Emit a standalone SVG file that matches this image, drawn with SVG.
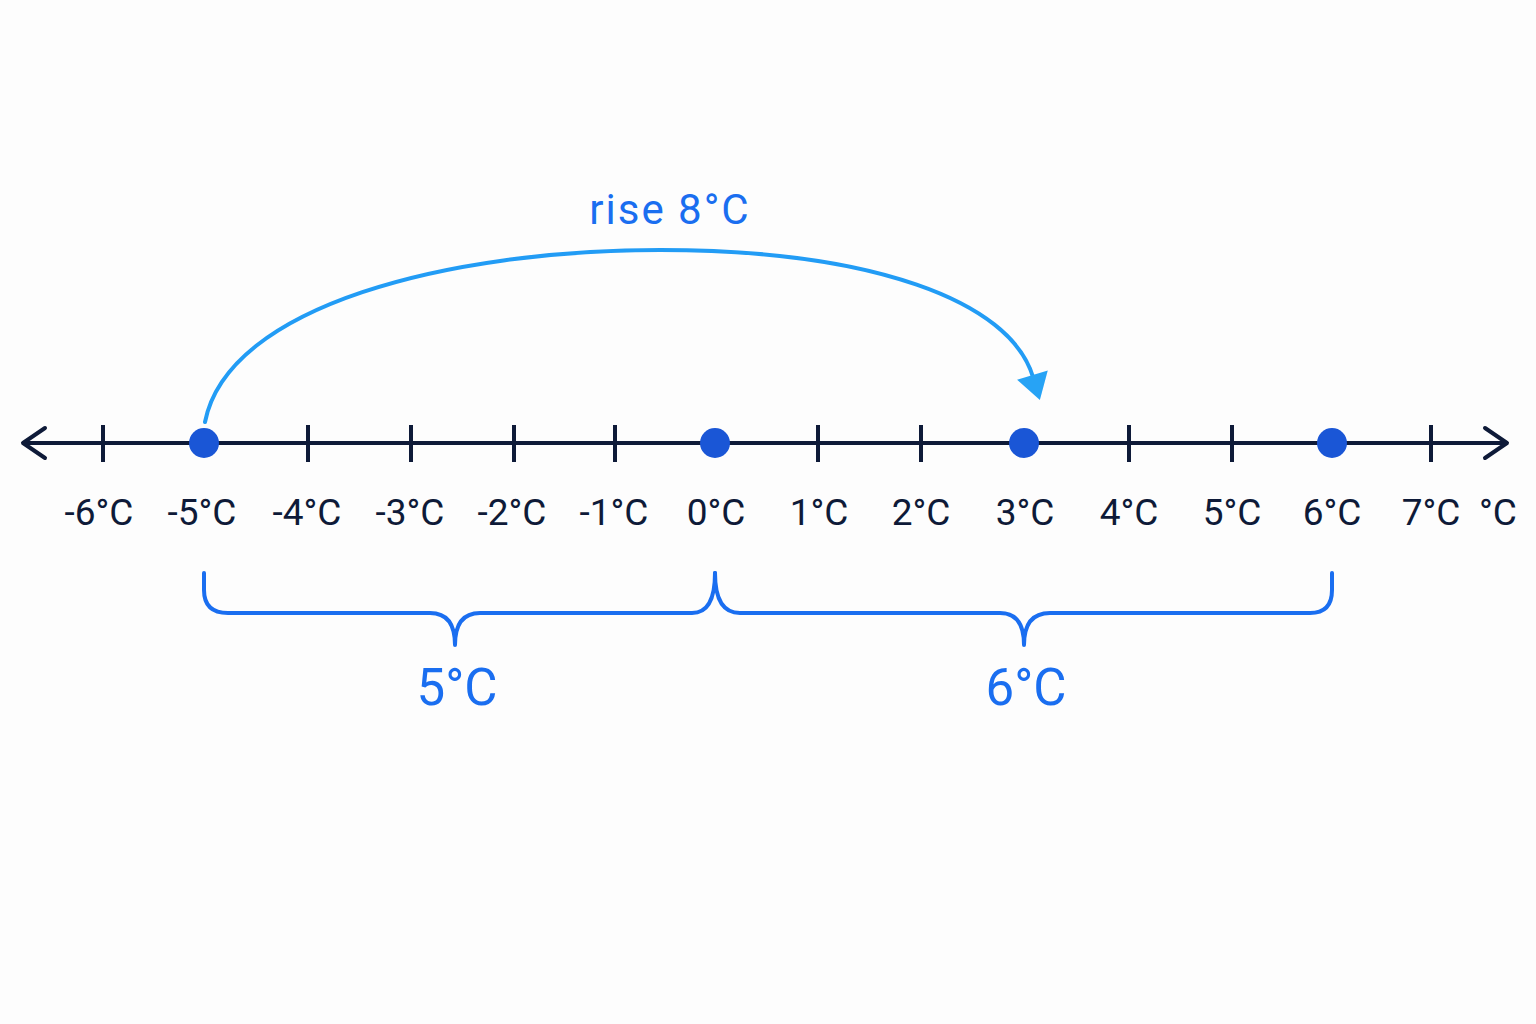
<svg xmlns="http://www.w3.org/2000/svg" width="1536" height="1024" viewBox="0 0 1536 1024">
<defs>
<style>
.axis{stroke:#0e1a38;stroke-width:4;fill:none;stroke-linecap:round;stroke-linejoin:round}
.tick{stroke:#0e1a38;stroke-width:4}
.dot{fill:#1a56d6}
.lbl{font-family:Roboto,"Liberation Sans",sans-serif;font-size:37px;fill:#0e1a38;text-anchor:middle}
.brace{stroke:#1a6ef0;stroke-width:4;fill:none;stroke-linecap:round;stroke-linejoin:round}
.blbl{font-family:Roboto,"Liberation Sans",sans-serif;font-size:51px;fill:#1a6ef0;text-anchor:middle}
.arc{stroke:#229cf5;stroke-width:4;fill:none;stroke-linecap:round}
</style>
<marker id="ah" markerUnits="userSpaceOnUse" viewBox="-2 -17 30 34" refX="2" refY="0" markerWidth="30" markerHeight="34" orient="auto">
<path d="M0,-16 L26,0 L0,16 z" fill="#27a3f5"/>
</marker>
</defs>
<rect width="1536" height="1024" fill="#fdfdfd"/>
<g id="axis">
<line class="axis" x1="24" y1="443" x2="1506" y2="443"/>
<polyline class="axis" points="45,428 23,443 45,458" stroke-width="5"/>
<polyline class="axis" points="1485,428 1507,443 1485,458" stroke-width="5"/>
<g>
<line class="tick" x1="103" y1="425" x2="103" y2="462"/>
<line class="tick" x1="308" y1="425" x2="308" y2="462"/>
<line class="tick" x1="411" y1="425" x2="411" y2="462"/>
<line class="tick" x1="514" y1="425" x2="514" y2="462"/>
<line class="tick" x1="615" y1="425" x2="615" y2="462"/>
<line class="tick" x1="818" y1="425" x2="818" y2="462"/>
<line class="tick" x1="921" y1="425" x2="921" y2="462"/>
<line class="tick" x1="1129" y1="425" x2="1129" y2="462"/>
<line class="tick" x1="1232" y1="425" x2="1232" y2="462"/>
<line class="tick" x1="1431" y1="425" x2="1431" y2="462"/>
</g>
</g>
<g id="labels">
<text class="lbl" x="99" y="525">-6°C</text>
<text class="lbl" x="202" y="525">-5°C</text>
<text class="lbl" x="307" y="525">-4°C</text>
<text class="lbl" x="410" y="525">-3°C</text>
<text class="lbl" x="512" y="525">-2°C</text>
<text class="lbl" x="614" y="525">-1°C</text>
<text class="lbl" x="716" y="525">0°C</text>
<text class="lbl" x="819" y="525">1°C</text>
<text class="lbl" x="921" y="525">2°C</text>
<text class="lbl" x="1025" y="525">3°C</text>
<text class="lbl" x="1129" y="525">4°C</text>
<text class="lbl" x="1232" y="525">5°C</text>
<text class="lbl" x="1332" y="525">6°C</text>
<text class="lbl" x="1431" y="525">7°C</text>
<text class="lbl" x="1498" y="525">°C</text>
</g>
<g id="point-m5"><circle class="dot" cx="204" cy="443" r="15"/></g>
<g id="point-0"><circle class="dot" cx="715" cy="443" r="15"/></g>
<g id="point-3"><circle class="dot" cx="1024" cy="443" r="15"/></g>
<g id="point-6"><circle class="dot" cx="1332" cy="443" r="15"/></g>
<g id="connectors">
<path class="arc" d="M205,422 C228,305 450,250 660,250 C870,250 1010,300 1033,377" marker-end="url(#ah)"/>
</g>
<g id="rise-label">
<text x="670" y="224" font-family="Roboto,'Liberation Sans',sans-serif" font-size="42" fill="#1a6ef0" text-anchor="middle" letter-spacing="2">rise 8°C</text>
</g>
<g id="brace-5">
<path class="brace" d="M204,573 L204,590 Q204,613 228,613 L430,613 Q455,613 455,645 Q455,613 480,613 L692,613 Q715,613 715,573"/>
<text class="blbl" x="457" y="705">5°C</text>
</g>
<g id="brace-6">
<path class="brace" d="M715,573 Q715,613 740,613 L1000,613 Q1024,613 1024,645 Q1024,613 1050,613 L1310,613 Q1332,613 1332,590 L1332,573"/>
<text class="blbl" x="1026" y="705">6°C</text>
</g>
</svg>
